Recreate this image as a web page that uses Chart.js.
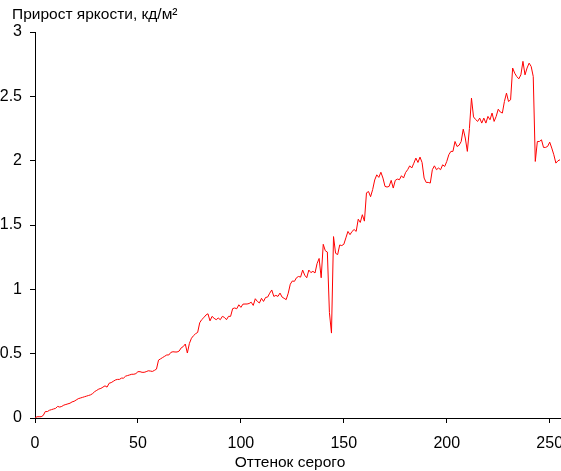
<!DOCTYPE html>
<html>
<head>
<meta charset="utf-8">
<script src="https://cdn.jsdelivr.net/npm/chart.js@4/dist/chart.umd.min.js"></script>
<style>
  body { margin: 0; background: #fff; }
  #wrap { width: 561px; height: 471px; }
</style>
</head>
<body>
<div id="wrap"><canvas id="chart" width="561" height="471"></canvas></div>
<script>
// --- Data ---
const titleText = 'Прирост яркости, кд/м²';
const xTitle = 'Оттенок серого';
const xTicks = [0, 50, 100, 150, 200, 250];
const yTicks = [0, 0.5, 1, 1.5, 2, 2.5, 3];

// gray shade 0..255
const shades = Array.from({ length: 256 }, (_, i) => i);

// brightness increment per shade
const increments = [
  0.00, 0.01, 0.01, 0.01, 0.02, 0.05, 0.05, 0.06, 0.065, 0.07,
  0.075, 0.09, 0.085, 0.09, 0.10, 0.105, 0.11, 0.115, 0.125, 0.13,
  0.14, 0.15, 0.155, 0.16, 0.165, 0.17, 0.175, 0.18, 0.19, 0.205,
  0.215, 0.225, 0.23, 0.24, 0.25, 0.24, 0.27, 0.275, 0.285, 0.295,
  0.30, 0.30, 0.31, 0.31, 0.325, 0.33, 0.335, 0.34, 0.34, 0.345,
  0.36, 0.36, 0.355, 0.355, 0.36, 0.367, 0.365, 0.362, 0.37, 0.38,
  0.45, 0.46, 0.47, 0.48, 0.49, 0.49, 0.51, 0.515, 0.513, 0.513,
  0.52, 0.545, 0.555, 0.575, 0.505, 0.58, 0.62, 0.64, 0.655, 0.665,
  0.74, 0.765, 0.78, 0.80, 0.81, 0.755, 0.79, 0.775, 0.764, 0.777,
  0.764, 0.79, 0.782, 0.764, 0.79, 0.79, 0.85, 0.855, 0.849, 0.88,
  0.86, 0.885, 0.886, 0.886, 0.89, 0.90, 0.875, 0.927, 0.906, 0.894,
  0.93, 0.906, 0.937, 0.94, 0.97, 0.995, 0.945, 0.953, 0.945, 0.971,
  0.94, 0.93, 0.92, 0.97, 1.04, 1.065, 1.062, 1.09, 1.10, 1.095,
  1.15, 1.11, 1.09, 1.15, 1.13, 1.14, 1.127, 1.20, 1.24, 1.09,
  1.35, 1.30, 1.29, 0.82, 0.66, 1.41, 1.28, 1.27, 1.345, 1.34,
  1.35, 1.40, 1.45, 1.425, 1.45, 1.465, 1.45, 1.545, 1.52, 1.58,
  1.53, 1.75, 1.76, 1.72, 1.775, 1.85, 1.89, 1.87, 1.91, 1.865,
  1.80, 1.795, 1.80, 1.847, 1.787, 1.847, 1.857, 1.852, 1.883, 1.865,
  1.908, 1.93, 1.96, 1.943, 1.98, 2.02, 1.986, 2.028, 1.986, 1.865,
  1.831, 1.831, 1.826, 1.93, 1.96, 1.93, 1.943, 1.93, 1.968, 1.955,
  1.994, 2.046, 2.072, 2.072, 2.149, 2.11, 2.12, 2.149, 2.245, 2.176,
  2.072, 2.25, 2.486, 2.34, 2.32, 2.305, 2.331, 2.292, 2.331, 2.292,
  2.344, 2.318, 2.37, 2.305, 2.344, 2.40, 2.378, 2.37, 2.46, 2.525,
  2.46, 2.473, 2.72, 2.68, 2.654, 2.636, 2.667, 2.772, 2.667, 2.72,
  2.758, 2.732, 2.654, 1.994, 2.149, 2.149, 2.162, 2.103, 2.103, 2.111,
  2.144, 2.098, 2.046, 1.981, 1.999, 2.007
];

const family = 'Liberation Sans, Arial, sans-serif';
const tickFont = { family, size: 16 };
const titleSize = 15.5;

// chart title top-left and axis caption under the x labels
const captions = {
  id: 'captions',
  afterDraw(chart) {
    const ctx = chart.ctx;
    ctx.save();
    ctx.font = `${titleSize}px ${family}`;
    ctx.fillStyle = '#000';
    ctx.textBaseline = 'alphabetic';
    ctx.textAlign = 'left';
    ctx.fillText(titleText, 12, 19);
    ctx.textAlign = 'center';
    ctx.fillText(xTitle, 290, 467);
    ctx.restore();
  }
};

new Chart(document.getElementById('chart').getContext('2d'), {
  type: 'line',
  data: {
    datasets: [{
      data: shades.map((s, i) => ({ x: s, y: increments[i] })),
      borderColor: '#ff0000',
      borderWidth: 1,
      pointRadius: 0,
      tension: 0,
      fill: false
    }]
  },
  options: {
    responsive: false,
    animation: false,
    layout: { padding: { left: 0, right: 1, top: 32, bottom: 0 } },
    plugins: {
      legend: { display: false },
      tooltip: { enabled: false },
      title: { display: false }
    },
    scales: {
      x: {
        type: 'linear',
        min: 0,
        max: 255,
        afterBuildTicks: axis => { axis.ticks = xTicks.map(v => ({ value: v })); },
        afterFit: axis => { axis.height = 53; axis.paddingLeft = 0; axis.paddingRight = 0; },
        ticks: { color: '#000', font: tickFont, padding: 11, maxRotation: 0, callback: v => String(v) },
        grid: { drawOnChartArea: false, drawTicks: true, tickLength: 5, color: '#000' },
        border: { display: true, color: '#000' }
      },
      y: {
        min: 0,
        max: 3,
        afterBuildTicks: axis => { axis.ticks = yTicks.map(v => ({ value: v })); },
        afterFit: axis => { axis.width = 35; },
        ticks: { color: '#000', font: tickFont, padding: 8, callback: v => String(v) },
        grid: { drawOnChartArea: false, drawTicks: true, tickLength: 5, color: '#000' },
        border: { display: true, color: '#000' }
      }
    }
  },
  plugins: [captions]
});
</script>
</body>
</html>
